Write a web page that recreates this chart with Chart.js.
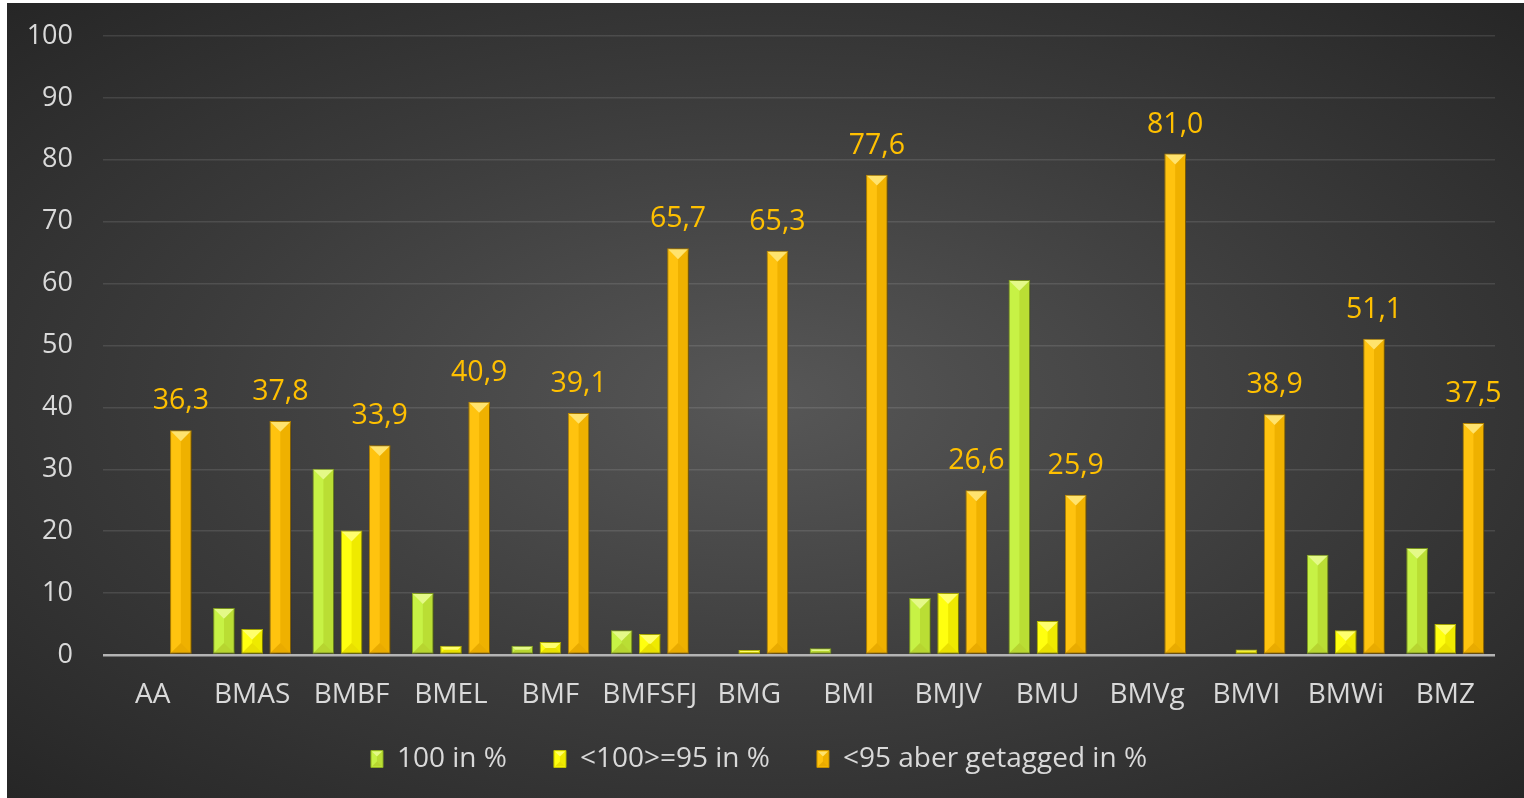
<!DOCTYPE html>
<html>
<head>
<meta charset="utf-8">
<script src="https://cdn.jsdelivr.net/npm/chart.js@4"></script>
<style>
  html, body { margin: 0; padding: 0; background: #ffffff; }
  #box {
    position: absolute; left: 7px; top: 3px; width: 1517px; height: 795px;
    background: radial-gradient(ellipse farthest-corner at 50% 50%, #575757 0%, #3b3b3b 55%, #262626 100%);
  }
  canvas { display: block; }
</style>
</head>
<body>
<div id="box"><canvas id="c" width="1517" height="795"></canvas></div>
<script>
const categories = ['AA','BMAS','BMBF','BMEL','BMF','BMFSFJ','BMG','BMI','BMJV','BMU','BMVg','BMVI','BMWi','BMZ'];
const seriesNames = ['100 in %', '<100>=95 in %', '<95 aber getagged in %'];
const values100 = [0, 7.6, 30.1, 10.0, 1.5, 4.0, 0, 1.1, 9.2, 60.6, 0, 0, 16.2, 17.3];
const values95 = [0, 4.2, 20.1, 1.5, 2.1, 3.4, 0.8, 0, 10.0, 5.5, 0, 0.9, 4.0, 5.0];
const valuesTagged = [36.3, 37.8, 33.9, 40.9, 39.1, 65.7, 65.3, 77.6, 26.6, 25.9, 81.0, 38.9, 51.1, 37.5];
const yMin = 0, yMax = 100, yStep = 10;

const fills = ['#c4f23a', '#ffff00', '#ffc000'];
const borders = ['#8fae22', '#c2c200', '#c48f00'];
const FONT = '"Open Sans", "DejaVu Sans", sans-serif';
const TEXT = '#d9d9d9';

const shadowPlugin = {
  id: 'barShadow',
  beforeDatasetsDraw(chart) {
    const ctx = chart.ctx;
    ctx.save();
    ctx.shadowColor = 'rgba(0,0,0,0.55)';
    ctx.shadowBlur = 6;
    ctx.shadowOffsetX = 2;
    ctx.shadowOffsetY = 1;
  },
  afterDatasetsDraw(chart) {
    chart.ctx.restore();
  }
};

function bevelRect(ctx, l, t, r, b) {
  const w = r - l, h = b - t;
  if (h < 1) return;
  const bv = Math.min(w / 2, h / 2);
  ctx.save();
  ctx.fillStyle = 'rgba(255,255,200,0.55)';
  ctx.beginPath();
  ctx.moveTo(l, t); ctx.lineTo(r, t); ctx.lineTo(r - bv, t + bv); ctx.lineTo(l + bv, t + bv); ctx.closePath();
  ctx.fill();
  ctx.fillStyle = 'rgba(120,60,0,0.16)';
  ctx.beginPath();
  ctx.moveTo(l, b); ctx.lineTo(r, b); ctx.lineTo(r - bv, b - bv); ctx.lineTo(l + bv, b - bv); ctx.closePath();
  ctx.fill();
  ctx.fillStyle = 'rgba(100,50,0,0.10)';
  ctx.beginPath();
  ctx.moveTo(r, t); ctx.lineTo(r, b); ctx.lineTo(r - bv, b - bv); ctx.lineTo(r - bv, t + bv); ctx.closePath();
  ctx.fill();
  ctx.fillStyle = 'rgba(255,255,255,0.06)';
  ctx.beginPath();
  ctx.moveTo(l, t); ctx.lineTo(l, b); ctx.lineTo(l + bv, b - bv); ctx.lineTo(l + bv, t + bv); ctx.closePath();
  ctx.fill();
  ctx.restore();
}

const bevelPlugin = {
  id: 'bevel',
  afterDatasetsDraw(chart) {
    const ctx = chart.ctx;
    chart.data.datasets.forEach((ds, di) => {
      const meta = chart.getDatasetMeta(di);
      meta.data.forEach((bar) => {
        const p = bar.getProps(['x', 'y', 'base', 'width'], true);
        bevelRect(ctx, p.x - p.width / 2 + 1, Math.min(p.y, p.base) + 1,
                  p.x + p.width / 2 - 1, Math.max(p.y, p.base) - 1);
      });
    });
  },
  afterDraw(chart) {
    const lg = chart.legend;
    if (!lg || !lg.legendHitBoxes) return;
    const ctx = chart.ctx;
    const bw = lg.options.labels.boxWidth, bh = lg.options.labels.boxHeight;
    lg.legendHitBoxes.forEach((hb) => {
      const top = hb.top + (hb.height - bh) / 2;
      bevelRect(ctx, hb.left + 1, top + 1, hb.left + bw - 1, top + bh - 1);
    });
  }
};

const labelPlugin = {
  id: 'valueLabels',
  afterDatasetsDraw(chart) {
    const ctx = chart.ctx;
    const di = 2;
    const meta = chart.getDatasetMeta(di);
    ctx.save();
    ctx.font = '28.5px ' + FONT;
    ctx.fillStyle = '#ffc000';
    ctx.textAlign = 'center';
    ctx.textBaseline = 'alphabetic';
    meta.data.forEach((bar, i) => {
      const v = chart.data.datasets[di].data[i];
      const txt = v.toFixed(1).replace('.', ',');
      ctx.fillText(txt, bar.x, bar.y - 21);
    });
    ctx.restore();
  }
};

const datasets = [values100, values95, valuesTagged].map((vals, i) => ({
  label: seriesNames[i],
  data: vals,
  backgroundColor: fills[i],
  borderColor: borders[i],
  borderWidth: 1,
  borderSkipped: false,
  categoryPercentage: 0.85,
  barPercentage: 0.77
}));

new Chart(document.getElementById('c'), {
  type: 'bar',
  data: { labels: categories, datasets },
  plugins: [shadowPlugin, bevelPlugin, labelPlugin],
  options: {
    responsive: false,
    animation: false,
    devicePixelRatio: 1,
    layout: { padding: { left: 16, right: 29, top: 33, bottom: 15 } },
    plugins: {
      tooltip: { enabled: false },
      legend: {
        position: 'bottom',
        labels: {
          color: TEXT,
          font: { family: FONT, size: 28 },
          boxWidth: 12,
          boxHeight: 17,
          padding: 47,
          generateLabels(chart) {
            return chart.data.datasets.map((ds, i) => ({
              text: ds.label,
              fillStyle: fills[i],
              strokeStyle: borders[i],
              lineWidth: 1,
              fontColor: TEXT,
              datasetIndex: i,
              hidden: false
            }));
          }
        }
      }
    },
    scales: {
      x: {
        grid: { display: false, drawTicks: false },
        border: { display: false },
        ticks: { color: TEXT, font: { family: FONT, size: 28 }, padding: 23, maxRotation: 0, autoSkip: false },
        afterFit(scale) {
          scale.height = 43;
          scale._computeLabelArea = () => undefined;
        }
      },
      y: {
        min: yMin, max: yMax,
        border: { display: false },
        grid: {
          drawTicks: false,
          color: (c) => (c.tick && c.tick.value === 0) ? '#b4b4b4' : 'rgba(255,255,255,0.11)',
          lineWidth: (c) => (c.tick && c.tick.value === 0) ? 2.5 : 1.5
        },
        ticks: { stepSize: yStep, color: TEXT, font: { family: FONT, size: 27 }, padding: 30 },
        afterFit(scale) {
          scale.width = 80;
          scale.paddingTop = 17;
          scale.paddingBottom = 17;
        }
      }
    }
  }
});
</script>
</body>
</html>
